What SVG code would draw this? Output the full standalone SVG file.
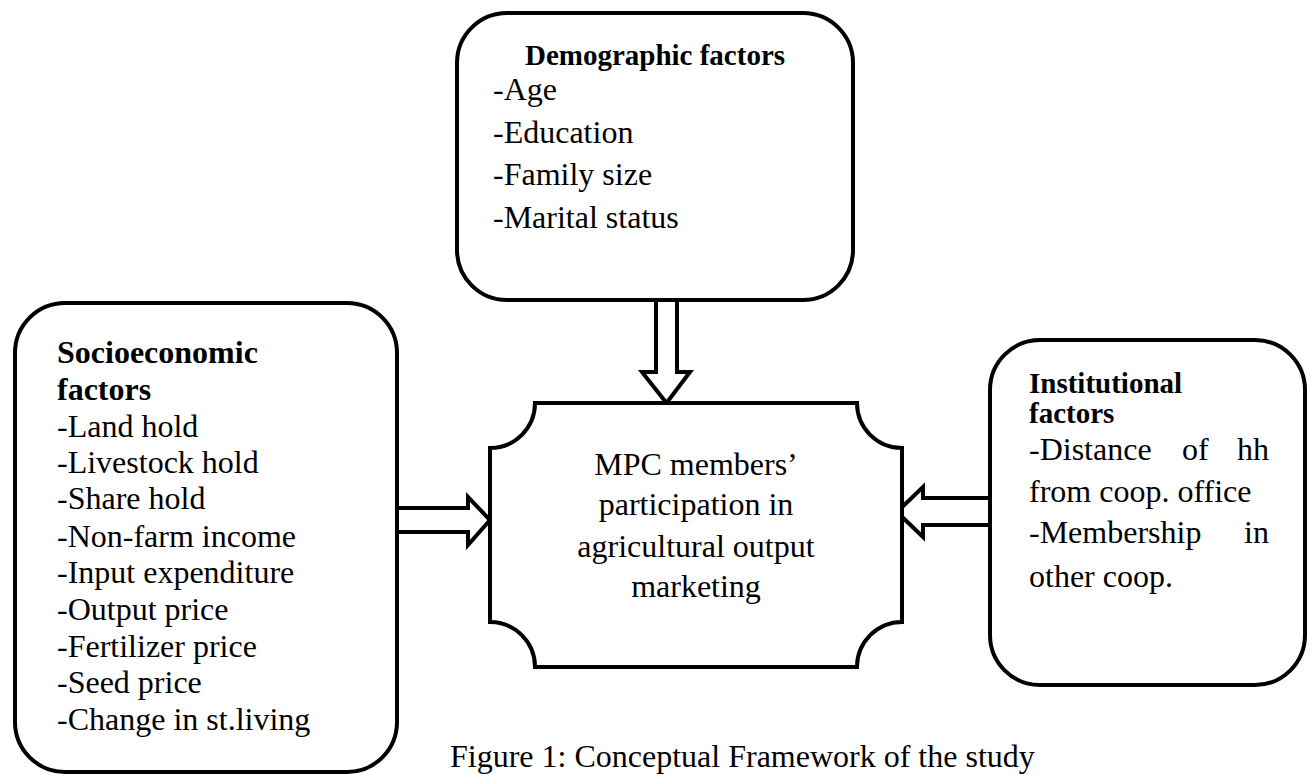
<svg xmlns="http://www.w3.org/2000/svg" width="1312" height="775" viewBox="0 0 1312 775">
<style>
.box{fill:#fff;stroke:#000;stroke-width:4;}
.arr{fill:#fff;stroke:#000;stroke-width:4;stroke-linejoin:miter;}
text{font-family:"Liberation Serif","Times New Roman",serif;fill:#000;}
.t{font-size:32px;}
.h{font-size:29px;font-weight:bold;}
.hb{font-size:32px;font-weight:bold;}
.c{font-size:32px;}
</style>
<rect width="1312" height="775" fill="#fff"/>
<g id="connectors">
<polygon class="arr" points="656,298 677,298 677,372 690,372 666.5,403 642,372 656,372"/>
<polygon class="arr" points="395,508 468,508 468,497 490,520 468,545 468,532 395,532"/>
<polygon class="arr" points="992,498 923,498 923,487 897,512 923,537 923,525 992,525"/>
</g>
<g id="demographic">
<rect class="box" x="457" y="13" width="396" height="287" rx="50" ry="50"/>
<text class="h" x="655" y="65" text-anchor="middle">Demographic factors</text>
<text class="t" x="493" y="100">-Age</text>
<text class="t" x="493" y="143">-Education</text>
<text class="t" x="493" y="185">-Family size</text>
<text class="t" x="493" y="228">-Marital status</text>
</g>
<g id="socioeconomic">
<rect class="box" x="15" y="303" width="382" height="469" rx="50" ry="50"/>
<text class="hb" x="57" y="363">Socioeconomic</text>
<text class="hb" x="57" y="400">factors</text>
<text class="t" x="57" y="437">-Land hold</text>
<text class="t" x="57" y="473">-Livestock hold</text>
<text class="t" x="57" y="509">-Share hold</text>
<text class="t" x="57" y="547">-Non-farm income</text>
<text class="t" x="57" y="583">-Input expenditure</text>
<text class="t" x="57" y="620">-Output price</text>
<text class="t" x="57" y="657">-Fertilizer price</text>
<text class="t" x="57" y="693">-Seed price</text>
<text class="t" x="57" y="730">-Change in st.living</text>
</g>
<g id="institutional">
<rect class="box" x="990" y="340" width="315" height="345" rx="50" ry="50"/>
<text class="h" x="1029" y="393">Institutional</text>
<text class="h" x="1029" y="423">factors</text>
<text class="t" x="1029" y="460">-Distance</text>
<text class="t" x="1182" y="460">of</text>
<text class="t" x="1269" y="460" text-anchor="end">hh</text>
<text class="t" x="1029" y="502">from coop. office</text>
<text class="t" x="1029" y="543">-Membership</text>
<text class="t" x="1269" y="543" text-anchor="end">in</text>
<text class="t" x="1029" y="587">other coop.</text>
</g>
<g id="outcome">
<path class="box" d="M535,403 L857,403 A45,45 0 0 0 902,448 L902,622 A45,45 0 0 0 857,667 L535,667 A45,45 0 0 0 490,622 L490,448 A45,45 0 0 0 535,403 Z"/>
<text class="t" x="696" y="475" text-anchor="middle">MPC members’</text>
<text class="t" x="696" y="515" text-anchor="middle">participation in</text>
<text class="t" x="696" y="557" text-anchor="middle">agricultural output</text>
<text class="t" x="696" y="597" text-anchor="middle">marketing</text>
</g>
<g id="caption">
<text class="c" x="450" y="767">Figure 1: Conceptual Framework of the study</text>
</g>
</svg>
